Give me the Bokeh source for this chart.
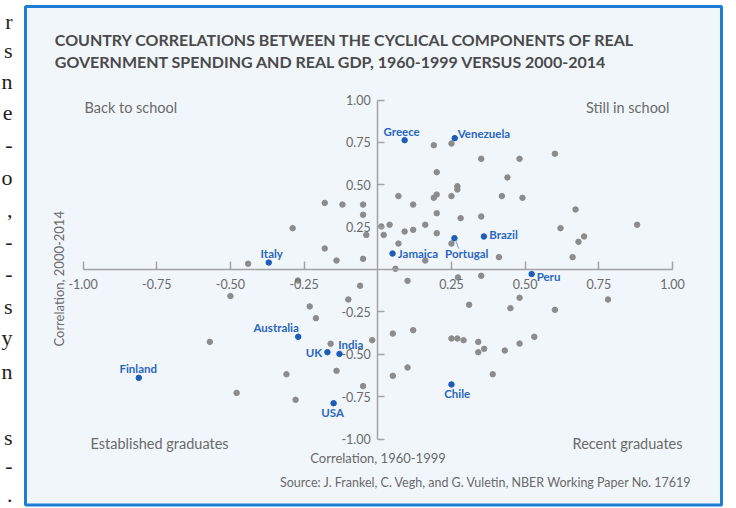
from bokeh.plotting import figure
from bokeh.models import Range1d, FixedTicker, NumeralTickFormatter, BoxAnnotation, Label, LinearAxis
from bokeh.core.properties import value
from bokeh.embed import file_html
from bokeh.resources import INLINE

# ---------------- data ----------------
other_x = [-0.180, -0.120, -0.050, -0.050, -0.289, -0.039, 0.012, 0.040, 0.020, -0.180,
           -0.140, -0.050, -0.440, 0.190, 0.250, 0.351, 0.481, 0.601, 0.200, 0.440,
           0.270, 0.270, 0.070, 0.190, 0.200, 0.250, 0.421, 0.491, 0.120, 0.671,
           0.200, 0.281, 0.351, 0.091, 0.120, 0.161, 0.200, 0.620, 0.880, 0.700,
           0.681, 0.070, 0.250, 0.161, 0.411, 0.661, 0.060, 0.101, 0.272, 0.351,
           0.481, 0.781, 0.310, 0.450, 0.601, -0.019, 0.051, 0.120, 0.250, 0.270,
           0.291, 0.341, 0.361, 0.341, 0.431, 0.481, 0.531, 0.051, 0.101, 0.390,
           -0.271, -0.060, -0.500, -0.100, -0.231, -0.210, -0.570, -0.160, -0.140, -0.310,
           -0.050, -0.479, -0.279]
other_y = [0.393, 0.383, 0.383, 0.323, 0.244, 0.204, 0.254, 0.264, 0.204, 0.124,
           0.053, 0.063, 0.034, 0.733, 0.743, 0.653, 0.653, 0.683, 0.574, 0.543,
           0.491, 0.472, 0.433, 0.423, 0.442, 0.433, 0.433, 0.423, 0.383, 0.354,
           0.332, 0.303, 0.313, 0.224, 0.234, 0.264, 0.214, 0.244, 0.264, 0.195,
           0.163, 0.153, 0.153, 0.053, 0.073, 0.073, 0.004, -0.067, -0.047, -0.037,
           -0.167, -0.177, -0.208, -0.228, -0.238, -0.417, -0.378, -0.358, -0.407, -0.407,
           -0.417, -0.427, -0.468, -0.488, -0.478, -0.437, -0.397, -0.627, -0.578, -0.618,
           -0.065, -0.096, -0.157, -0.177, -0.218, -0.287, -0.427, -0.438, -0.598, -0.618,
           -0.688, -0.728, -0.769]

country_names = ["Greece", "Venezuela", "Portugal", "Brazil", "Jamaica", "Italy", "Peru",
                 "Chile", "Australia", "UK", "India", "USA", "Finland"]
country_x = [0.091, 0.261, 0.260, 0.360, 0.050, -0.370, 0.522, 0.250, -0.270, -0.171, -0.130, -0.150, -0.811]
country_y = [0.763, 0.775, 0.185, 0.195, 0.094, 0.041, -0.027, -0.678, -0.397, -0.488, -0.498, -0.789, -0.639]

x_ticks = [-1.0, -0.75, -0.5, -0.25, 0.25, 0.5, 0.75, 1.0]
y_ticks = [-1.0, -0.75, -0.5, -0.25, 0.25, 0.5, 0.75, 1.0]

title_lines = ["COUNTRY CORRELATIONS BETWEEN THE CYCLICAL COMPONENTS OF REAL",
               "GOVERNMENT SPENDING AND REAL GDP, 1960-1999 VERSUS 2000-2014"]
quadrant_labels = ["Back to school", "Still in school", "Established graduates", "Recent graduates"]
x_title = "Correlation, 1960-1999"
y_title = "Correlation, 2000-2014"
source_text = "Source: J. Frankel, C. Vegh, and G. Vuletin, NBER Working Paper No. 17619"

# line endings of the surrounding page text (left edge of the picture)
margin_chars = ["r", "s", "n", "e", "-", "o", ",", "-", "-", "s", "y", "n", "s", "-", "."]
margin_baselines = [21, 50, 81, 112, 144, 177, 209, 241, 273, 306, 337, 371, 437, 465, 494]

# ---------------- layout helpers (page pixels -> data) ----------------
W, H = 736, 508
MARGIN = 0
X0PX, XSCALE = 377.3, 294.7
Y0PX, YSCALE = 269.0, 169.5


def dx(px):
    return (px - X0PX) / XSCALE


def dy(py):
    return (Y0PX - py) / YSCALE


FONT = "Lato"
GRAY_TEXT = "#6a6a6a"
BLUE_TEXT = "#2a66bf"

p = figure(width=W, height=H,
           x_range=Range1d(dx(MARGIN), dx(MARGIN + W)),
           y_range=Range1d(dy(MARGIN + H), dy(MARGIN)),
           output_backend="svg", toolbar_location=None,
           x_axis_type=None, y_axis_type=None,
           min_border=0, outline_line_color=None,
           background_fill_color="white", border_fill_color="white")
p.grid.visible = False

# panel box
box = BoxAnnotation(left=dx(25), right=dx(721), top=dy(6), bottom=dy(504.5),
                    fill_color="#f1f6fb", fill_alpha=1.0,
                    line_color="#1b7dd3", line_alpha=1.0, line_width=3, level="underlay")
p.add_layout(box)

# page text fragments at the left edge
for ch, by in zip(margin_chars, margin_baselines):
    p.add_layout(Label(x=dx(12), y=dy(by), text=ch, text_align="right",
                       text_baseline="alphabetic", text_font="Liberation Serif",
                       text_font_size="22px", text_color="#1e1e1e"))

# axes crossing at the origin
xaxis = LinearAxis(fixed_location=0, bounds=(-1, 1),
                   ticker=FixedTicker(ticks=x_ticks),
                   formatter=NumeralTickFormatter(format="0.00"),
                   major_tick_in=8, major_tick_out=0, minor_tick_line_color=None,
                   major_label_standoff=9,
                   axis_line_color="#a3a3a3", axis_line_width=1.5,
                   major_tick_line_color="#a3a3a3", major_tick_line_width=1.5,
                   major_label_text_font=FONT, major_label_text_font_size="12.5px",
                   major_label_text_color=GRAY_TEXT)
yaxis = LinearAxis(fixed_location=0, bounds=(-1, 1),
                   ticker=FixedTicker(ticks=y_ticks),
                   formatter=NumeralTickFormatter(format="0.00"),
                   major_tick_in=7, major_tick_out=0, minor_tick_line_color=None,
                   major_label_standoff=7,
                   axis_line_color="#a3a3a3", axis_line_width=1.5,
                   major_tick_line_color="#a3a3a3", major_tick_line_width=1.5,
                   major_label_text_font=FONT, major_label_text_font_size="12.5px",
                   major_label_text_color=GRAY_TEXT)
p.add_layout(xaxis, "below")
p.add_layout(yaxis, "left")

# points
p.scatter(other_x, other_y, size=5.5, color="#8c8c8c")
p.scatter(country_x, country_y, size=5.5, color="#1d5db8")

# country labels: (align, x offset px, y offset px)
label_style = {
    "Greece": ("center", -3, -9),
    "Venezuela": ("left", 3, -4.5),
    "Portugal": ("left", -9.3, 15),
    "Brazil": ("left", 5.4, -2),
    "Jamaica": ("left", 5.3, -0.5),
    "Italy": ("center", 3, -9.5),
    "Peru": ("left", 5, 2.5),
    "Chile": ("center", 5.7, 9.5),
    "Australia": ("right", 0.6, -9.3),
    "UK": ("right", -5.3, 0.5),
    "India": ("left", -1.3, -9.5),
    "USA": ("center", -1, 9.6),
    "Finland": ("center", -0.6, -9.5),
}
for name, cx, cy in zip(country_names, country_x, country_y):
    align, ox, oy = label_style[name]
    p.text(x=[cx], y=[cy], text=[name], x_offset=ox, y_offset=oy,
           text_align=align, text_baseline="middle",
           text_font=value(FONT), text_font_style="bold",
           text_font_size="11.5px", text_color=BLUE_TEXT)

# Portugal leader line
i_pt = country_names.index("Portugal")
p.segment(x0=[country_x[i_pt] + 1.3 / XSCALE], y0=[country_y[i_pt] - 2.5 / YSCALE],
          x1=[country_x[i_pt] + 4.3 / XSCALE], y1=[country_y[i_pt] - 10.5 / YSCALE],
          line_color="#7b9bd0", line_width=1)

# title
for line, cy in zip(title_lines, [38.8, 61.2]):
    p.add_layout(Label(x=dx(54.3), y=dy(cy), text=line, text_align="left",
                       text_baseline="middle", text_font=FONT, text_font_style="bold",
                       text_font_size="16px", text_color="#4a4a4a"))

# quadrant labels
quad_pos = [(84, 106.7, "left"), (669, 106.7, "right"), (90, 442.5, "left"), (682, 442.5, "right")]
for txt, (qx, qy, qa) in zip(quadrant_labels, quad_pos):
    p.add_layout(Label(x=dx(qx), y=dy(qy), text=txt, text_align=qa, text_baseline="middle",
                       text_font=FONT, text_font_size="14.5px", text_color=GRAY_TEXT))

# axis titles
p.add_layout(Label(x=dx(377.5), y=dy(457.3), text=x_title, text_align="center",
                   text_baseline="middle", text_font=FONT, text_font_size="13px",
                   text_color=GRAY_TEXT))
p.add_layout(Label(x=dx(58.5), y=dy(278.3), text=y_title, text_align="center",
                   text_baseline="middle", angle=90, angle_units="deg",
                   text_font=FONT, text_font_size="13px", text_color=GRAY_TEXT))

# source
p.add_layout(Label(x=dx(691.7), y=dy(481.7), text=source_text, text_align="right",
                   text_baseline="middle", text_font=FONT, text_font_size="12.5px",
                   text_color=GRAY_TEXT))

open("out.html", "w").write(file_html(p, INLINE))
